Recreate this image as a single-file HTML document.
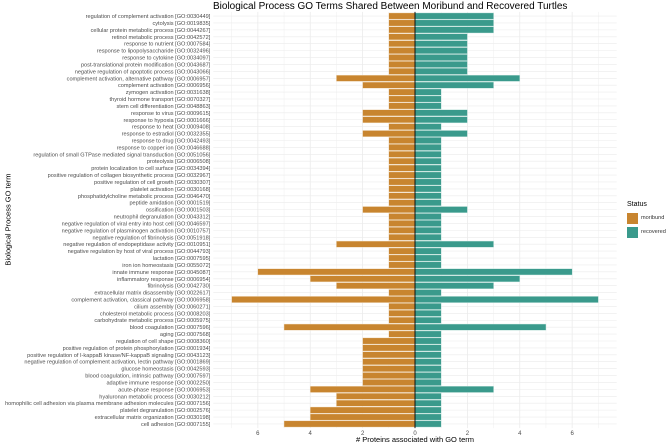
<!DOCTYPE html>
<html><head><meta charset="utf-8"><style>
body{margin:0;background:#fff;}
svg{display:block;font-family:"Liberation Sans",sans-serif;}
</style></head><body>
<svg id="chart" width="666" height="444"></svg>
<script>
const categories=["regulation of complement activation [GO:0030449]","cytolysis [GO:0019835]","cellular protein metabolic process [GO:0044267]","retinol metabolic process [GO:0042572]","response to nutrient [GO:0007584]","response to lipopolysaccharide [GO:0032496]","response to cytokine [GO:0034097]","post-translational protein modification [GO:0043687]","negative regulation of apoptotic process [GO:0043066]","complement activation, alternative pathway [GO:0006957]","complement activation [GO:0006956]","zymogen activation [GO:0031638]","thyroid hormone transport [GO:0070327]","stem cell differentiation [GO:0048863]","response to virus [GO:0009615]","response to hypoxia [GO:0001666]","response to heat [GO:0009408]","response to estradiol [GO:0032355]","response to drug [GO:0042493]","response to copper ion [GO:0046688]","regulation of small GTPase mediated signal transduction [GO:0051056]","proteolysis [GO:0006508]","protein localization to cell surface [GO:0034394]","positive regulation of collagen biosynthetic process [GO:0032967]","positive regulation of cell growth [GO:0030307]","platelet activation [GO:0030168]","phosphatidylcholine metabolic process [GO:0046470]","peptide amidation [GO:0001519]","ossification [GO:0001503]","neutrophil degranulation [GO:0043312]","negative regulation of viral entry into host cell [GO:0046597]","negative regulation of plasminogen activation [GO:0010757]","negative regulation of fibrinolysis [GO:0051918]","negative regulation of endopeptidase activity [GO:0010951]","negative regulation by host of viral process [GO:0044793]","lactation [GO:0007595]","iron ion homeostasis [GO:0055072]","innate immune response [GO:0045087]","inflammatory response [GO:0006954]","fibrinolysis [GO:0042730]","extracellular matrix disassembly [GO:0022617]","complement activation, classical pathway [GO:0006958]","cilium assembly [GO:0060271]","cholesterol metabolic process [GO:0008203]","carbohydrate metabolic process [GO:0005975]","blood coagulation [GO:0007596]","aging [GO:0007568]","regulation of cell shape [GO:0008360]","positive regulation of protein phosphorylation [GO:0001934]","positive regulation of I-kappaB kinase/NF-kappaB signaling [GO:0043123]","negative regulation of complement activation, lectin pathway [GO:0001869]","glucose homeostasis [GO:0042593]","blood coagulation, intrinsic pathway [GO:0007597]","adaptive immune response [GO:0002250]","acute-phase response [GO:0006953]","hyaluronan metabolic process [GO:0030212]","homophilic cell adhesion via plasma membrane adhesion molecules [GO:0007156]","platelet degranulation [GO:0002576]","extracellular matrix organization [GO:0030198]","cell adhesion [GO:0007155]"];
const moribund=[1,1,1,1,1,1,1,1,1,3,2,1,1,1,2,2,1,2,1,1,1,1,1,1,1,1,1,1,2,1,1,1,1,3,1,1,1,6,4,3,1,7,1,1,1,5,1,2,2,2,2,2,2,2,4,3,3,4,4,5];
const recovered=[3,3,3,2,2,2,2,2,2,4,3,1,1,1,2,2,1,2,1,1,1,1,1,1,1,1,1,1,2,1,1,1,1,3,1,1,1,6,4,3,1,7,1,1,1,5,1,1,1,1,1,1,1,1,3,1,1,1,1,1];
const tickValues=[-6,-4,-2,0,2,4,6];
const tickLabels=["6","4","2","0","2","4","6"];

const NS="http://www.w3.org/2000/svg";
const svg=document.getElementById('chart');
const L=213.3,R=616.7,T=11.9,B=428.1,XMIN=-7.7,XMAX=7.7;
const n=categories.length;
const step=(B-T)/(n+0.2);
function x(v){return L+(v-XMIN)/(XMAX-XMIN)*(R-L);}
function y(i){return T+step*(i+0.6);}
function mk(tag,attrs,parent){const e=document.createElementNS(NS,tag);for(const k in attrs)e.setAttribute(k,attrs[k]);(parent||svg).appendChild(e);return e;}

for(let v=-7;v<=7;v++){
  const g=mk('line',{x1:x(v),x2:x(v),y1:T,y2:B,stroke:'#ebebeb','stroke-width':v%2===0?0.8:0.4});
  
  
}
for(let i=0;i<n;i++){
  const g=mk('line',{x1:L,x2:R,y1:y(i),y2:y(i),stroke:'#ebebeb','stroke-width':0.6});
  
  
}
const bh=step*0.9;
for(let i=0;i<n;i++){
  const m=mk('rect',{x:x(-moribund[i]),y:y(i)-bh/2,width:x(0)-x(-moribund[i]),height:bh,fill:'#c8852f',stroke:'#f3e1c8','stroke-width':0.4});
  
  
  const r=mk('rect',{x:x(0),y:y(i)-bh/2,width:x(recovered[i])-x(0),height:bh,fill:'#3a9a8c',stroke:'#c9e6e0','stroke-width':0.4});
  
  
  const t=mk('text',{x:L-3,y:y(i)+2,'font-size':5.6,'text-anchor':'end',fill:'#4d4d4d'});
  t.textContent=categories[i];
  
  
}
const z=mk('line',{x1:x(0),x2:x(0),y1:T,y2:B,stroke:'#000','stroke-width':0.9});


tickValues.forEach((v,k)=>{
  const t=mk('text',{x:x(v),y:435,'font-size':6,'text-anchor':'middle',fill:'#4d4d4d'});
  t.textContent=tickLabels[k];
  
  
});
</script>
<div style="position:absolute;left:0;top:0;width:666px;height:444px;pointer-events:none;font-family:'Liberation Sans',sans-serif;">
<div style="position:absolute;left:213px;top:1px;font-size:10px;color:#000;white-space:nowrap;">Biological Process GO Terms Shared Between Moribund and Recovered Turtles</div>
<div style="position:absolute;left:315px;width:200px;text-align:center;top:435px;font-size:7.5px;color:#000;"># Proteins associated with GO term</div>
<div style="position:absolute;left:-72px;top:215px;width:160px;text-align:center;font-size:7.5px;transform:rotate(-90deg);color:#000;">Biological Process GO term</div>
<div style="position:absolute;left:627px;top:201px;font-size:7px;">
<div style="margin-bottom:3px;">Status</div>
<div style="display:flex;align-items:center;height:14px;"><span style="display:inline-block;width:11px;height:11px;background:#c8852f;margin-right:3px;"></span><span style="font-size:5.6px;color:#333;">moribund</span></div>
<div style="display:flex;align-items:center;height:14px;"><span style="display:inline-block;width:11px;height:11px;background:#3a9a8c;margin-right:3px;"></span><span style="font-size:5.6px;color:#333;">recovered</span></div>
</div>
</div>
</body></html>
